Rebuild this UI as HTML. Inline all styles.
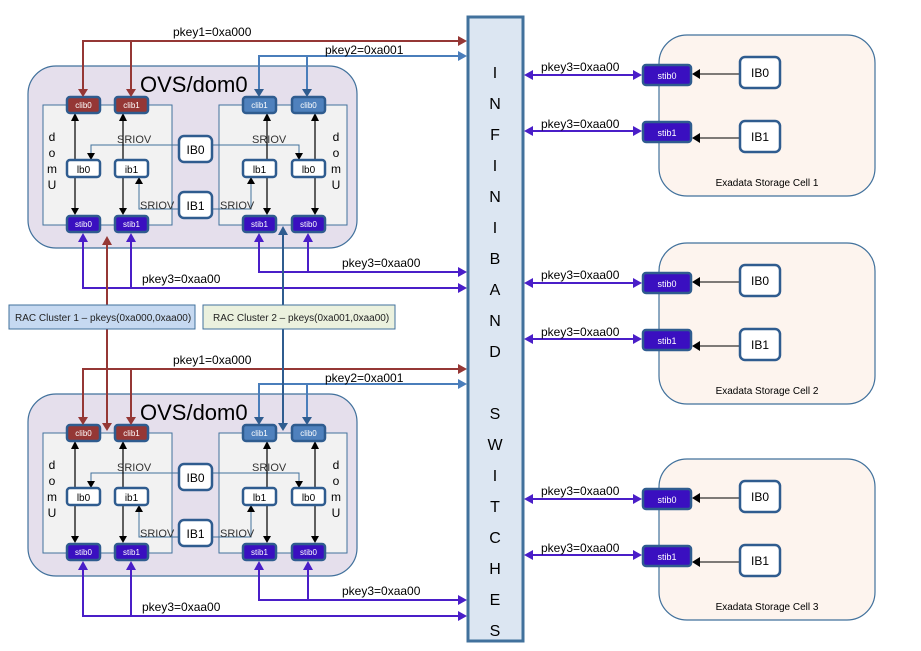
<!DOCTYPE html>
<html><head><meta charset="utf-8"><style>
html,body{margin:0;padding:0;background:#fff;}
svg{display:block;font-family:"Liberation Sans",sans-serif;}
</style></head><body>
<svg width="921" height="651" viewBox="0 0 921 651" xmlns="http://www.w3.org/2000/svg">
<g>
  <rect x="28" y="66" width="329" height="182" rx="28" fill="#e5dfec" stroke="#41719c" stroke-width="1.2"/>
  <text x="140" y="92" font-size="22" fill="#000">OVS/dom0</text>
  <rect x="43" y="105" width="129" height="120" fill="#f2f2f2" stroke="#41719c"/>
  <rect x="219" y="105" width="128" height="120" fill="#f2f2f2" stroke="#41719c"/>
  <g font-size="12" fill="#000" text-anchor="middle">
    <text x="52" y="141">d</text><text x="52" y="157">o</text><text x="52" y="173">m</text><text x="52" y="189">U</text>
    <text x="336" y="141">d</text><text x="336" y="157">o</text><text x="336" y="173">m</text><text x="336" y="189">U</text>
  </g>
  <path d="M178,145 H91 V155 M212,145 H299 V155 M178,209 H139 V182 M212,209 H251 V182" fill="none" stroke="#41719c"/>
  <path d="M75,160 V118 M75,177 V210 M123,160 V118 M123,177 V210 M267,160 V118 M267,177 V210 M315,160 V118 M315,177 V210" stroke="#000" stroke-width="1.2" fill="none"/>
  <path d="M71,121 L79,121 L75,113 z M119,121 L127,121 L123,113 z M263,121 L271,121 L267,113 z M311,121 L319,121 L315,113 z M71,208 L79,208 L75,215 z M119,208 L127,208 L123,215 z M263,208 L271,208 L267,215 z M311,208 L319,208 L315,215 z M87,153 L95,153 L91,160 z M295,153 L303,153 L299,160 z M135,184 L143,184 L139,177 z M247,184 L255,184 L251,177 z" fill="#000"/>
  <g font-size="11" fill="#333">
    <text x="117" y="143">SRIOV</text><text x="252" y="143">SRIOV</text>
    <text x="140" y="209">SRIOV</text><text x="220" y="209">SRIOV</text>
  </g>
  <rect x="179" y="136" width="33" height="26" rx="5" fill="#fff" stroke="#2f5c8f" stroke-width="2.5"/>
  <text x="195.5" y="154" font-size="12" text-anchor="middle">IB0</text>
  <rect x="179" y="192" width="33" height="26" rx="5" fill="#fff" stroke="#2f5c8f" stroke-width="2.5"/>
  <text x="195.5" y="210" font-size="12" text-anchor="middle">IB1</text>
  <g stroke="#2f5c8f" stroke-width="2.5">
    <rect x="67" y="97" width="33" height="16" rx="3" fill="#953735"/>
    <rect x="115" y="97" width="33" height="16" rx="3" fill="#953735"/>
    <rect x="243" y="97" width="33" height="16" rx="3" fill="#4f81bd"/>
    <rect x="292" y="97" width="33" height="16" rx="3" fill="#4f81bd"/>
    <rect x="67" y="160" width="33" height="17" rx="3" fill="#fff"/>
    <rect x="115" y="160" width="33" height="17" rx="3" fill="#fff"/>
    <rect x="243" y="160" width="33" height="17" rx="3" fill="#fff"/>
    <rect x="292" y="160" width="33" height="17" rx="3" fill="#fff"/>
    <rect x="67" y="216" width="33" height="16" rx="3" fill="#3a0fc0"/>
    <rect x="115" y="216" width="33" height="16" rx="3" fill="#3a0fc0"/>
    <rect x="243" y="216" width="33" height="16" rx="3" fill="#3a0fc0"/>
    <rect x="292" y="216" width="33" height="16" rx="3" fill="#3a0fc0"/>
  </g>
  <g font-size="8" fill="#fff" text-anchor="middle">
    <text x="83.5" y="108">clib0</text><text x="131.5" y="108">clib1</text>
    <text x="259.5" y="108">clib1</text><text x="308.5" y="108">clib0</text>
    <text x="83.5" y="227">stib0</text><text x="131.5" y="227">stib1</text>
    <text x="259.5" y="227">stib1</text><text x="308.5" y="227">stib0</text>
  </g>
  <g font-size="10" fill="#000" text-anchor="middle">
    <text x="83.5" y="173">lb0</text><text x="131.5" y="173">ib1</text>
    <text x="259.5" y="173">lb1</text><text x="308.5" y="173">lb0</text>
  </g>
  <path d="M83,90 V41 H460 M131,41 V90" fill="none" stroke="#953735" stroke-width="2"/>
  <path d="M78,89 L88,89 L83,97 z M126,89 L136,89 L131,97 z M458,36 L467,41 L458,46 z" fill="#953735"/>
  <path d="M259,90 V56 H460 M307,56 V90" fill="none" stroke="#4a7ebb" stroke-width="2"/>
  <path d="M254,89 L264,89 L259,97 z M302,89 L312,89 L307,97 z" fill="#2f5c8f"/>
  <path d="M458,51 L467,56 L458,61 z" fill="#4a7ebb"/>
  <text x="173" y="36" font-size="12">pkey1=0xa000</text>
  <text x="325" y="54" font-size="12">pkey2=0xa001</text>
  <path d="M83,240 V288 H460 M131,288 V240 M259,240 V272 H460 M308,272 V240" fill="none" stroke="#4a1ec8" stroke-width="2"/>
  <path d="M78,242 L88,242 L83,233 z M126,242 L136,242 L131,233 z M254,242 L264,242 L259,233 z M303,242 L313,242 L308,233 z M458,283 L467,288 L458,293 z M458,267 L467,272 L458,277 z" fill="#4a1ec8"/>
  <text x="142" y="283" font-size="12">pkey3=0xaa00</text>
  <text x="342" y="267" font-size="12">pkey3=0xaa00</text>
</g>
<g transform="translate(0,328)">
  <rect x="28" y="66" width="329" height="182" rx="28" fill="#e5dfec" stroke="#41719c" stroke-width="1.2"/>
  <text x="140" y="92" font-size="22" fill="#000">OVS/dom0</text>
  <rect x="43" y="105" width="129" height="120" fill="#f2f2f2" stroke="#41719c"/>
  <rect x="219" y="105" width="128" height="120" fill="#f2f2f2" stroke="#41719c"/>
  <g font-size="12" fill="#000" text-anchor="middle">
    <text x="52" y="141">d</text><text x="52" y="157">o</text><text x="52" y="173">m</text><text x="52" y="189">U</text>
    <text x="336" y="141">d</text><text x="336" y="157">o</text><text x="336" y="173">m</text><text x="336" y="189">U</text>
  </g>
  <path d="M178,145 H91 V155 M212,145 H299 V155 M178,209 H139 V182 M212,209 H251 V182" fill="none" stroke="#41719c"/>
  <path d="M75,160 V118 M75,177 V210 M123,160 V118 M123,177 V210 M267,160 V118 M267,177 V210 M315,160 V118 M315,177 V210" stroke="#000" stroke-width="1.2" fill="none"/>
  <path d="M71,121 L79,121 L75,113 z M119,121 L127,121 L123,113 z M263,121 L271,121 L267,113 z M311,121 L319,121 L315,113 z M71,208 L79,208 L75,215 z M119,208 L127,208 L123,215 z M263,208 L271,208 L267,215 z M311,208 L319,208 L315,215 z M87,153 L95,153 L91,160 z M295,153 L303,153 L299,160 z M135,184 L143,184 L139,177 z M247,184 L255,184 L251,177 z" fill="#000"/>
  <g font-size="11" fill="#333">
    <text x="117" y="143">SRIOV</text><text x="252" y="143">SRIOV</text>
    <text x="140" y="209">SRIOV</text><text x="220" y="209">SRIOV</text>
  </g>
  <rect x="179" y="136" width="33" height="26" rx="5" fill="#fff" stroke="#2f5c8f" stroke-width="2.5"/>
  <text x="195.5" y="154" font-size="12" text-anchor="middle">IB0</text>
  <rect x="179" y="192" width="33" height="26" rx="5" fill="#fff" stroke="#2f5c8f" stroke-width="2.5"/>
  <text x="195.5" y="210" font-size="12" text-anchor="middle">IB1</text>
  <g stroke="#2f5c8f" stroke-width="2.5">
    <rect x="67" y="97" width="33" height="16" rx="3" fill="#953735"/>
    <rect x="115" y="97" width="33" height="16" rx="3" fill="#953735"/>
    <rect x="243" y="97" width="33" height="16" rx="3" fill="#4f81bd"/>
    <rect x="292" y="97" width="33" height="16" rx="3" fill="#4f81bd"/>
    <rect x="67" y="160" width="33" height="17" rx="3" fill="#fff"/>
    <rect x="115" y="160" width="33" height="17" rx="3" fill="#fff"/>
    <rect x="243" y="160" width="33" height="17" rx="3" fill="#fff"/>
    <rect x="292" y="160" width="33" height="17" rx="3" fill="#fff"/>
    <rect x="67" y="216" width="33" height="16" rx="3" fill="#3a0fc0"/>
    <rect x="115" y="216" width="33" height="16" rx="3" fill="#3a0fc0"/>
    <rect x="243" y="216" width="33" height="16" rx="3" fill="#3a0fc0"/>
    <rect x="292" y="216" width="33" height="16" rx="3" fill="#3a0fc0"/>
  </g>
  <g font-size="8" fill="#fff" text-anchor="middle">
    <text x="83.5" y="108">clib0</text><text x="131.5" y="108">clib1</text>
    <text x="259.5" y="108">clib1</text><text x="308.5" y="108">clib0</text>
    <text x="83.5" y="227">stib0</text><text x="131.5" y="227">stib1</text>
    <text x="259.5" y="227">stib1</text><text x="308.5" y="227">stib0</text>
  </g>
  <g font-size="10" fill="#000" text-anchor="middle">
    <text x="83.5" y="173">lb0</text><text x="131.5" y="173">ib1</text>
    <text x="259.5" y="173">lb1</text><text x="308.5" y="173">lb0</text>
  </g>
  <path d="M83,90 V41 H460 M131,41 V90" fill="none" stroke="#953735" stroke-width="2"/>
  <path d="M78,89 L88,89 L83,97 z M126,89 L136,89 L131,97 z M458,36 L467,41 L458,46 z" fill="#953735"/>
  <path d="M259,90 V56 H460 M307,56 V90" fill="none" stroke="#4a7ebb" stroke-width="2"/>
  <path d="M254,89 L264,89 L259,97 z M302,89 L312,89 L307,97 z" fill="#2f5c8f"/>
  <path d="M458,51 L467,56 L458,61 z" fill="#4a7ebb"/>
  <text x="173" y="36" font-size="12">pkey1=0xa000</text>
  <text x="325" y="54" font-size="12">pkey2=0xa001</text>
  <path d="M83,240 V288 H460 M131,288 V240 M259,240 V272 H460 M308,272 V240" fill="none" stroke="#4a1ec8" stroke-width="2"/>
  <path d="M78,242 L88,242 L83,233 z M126,242 L136,242 L131,233 z M254,242 L264,242 L259,233 z M303,242 L313,242 L308,233 z M458,283 L467,288 L458,293 z M458,267 L467,272 L458,277 z" fill="#4a1ec8"/>
  <text x="142" y="283" font-size="12">pkey3=0xaa00</text>
  <text x="342" y="267" font-size="12">pkey3=0xaa00</text>
</g>
<path d="M107,243 V424 M283,234 V424" fill="none" stroke-width="2" stroke="#953735"/>
<path d="M283,234 V424" fill="none" stroke-width="2" stroke="#2f5c8f"/>
<path d="M102,245 L112,245 L107,236 z M102,423 L112,423 L107,431 z" fill="#953735"/>
<path d="M278,235 L288,235 L283,226 z M278,423 L288,423 L283,431 z" fill="#2f5c8f"/>
<rect x="9" y="305" width="186" height="24" fill="#c6d9f1" stroke="#41719c"/>
<text x="15" y="321" font-size="10" fill="#222">RAC Cluster 1 – pkeys(0xa000,0xaa00)</text>
<rect x="203" y="305" width="192" height="24" fill="#ebf1de" stroke="#41719c"/>
<text x="213" y="321" font-size="10" fill="#222">RAC Cluster 2 – pkeys(0xa001,0xaa00)</text>
<rect x="468" y="17" width="55" height="624" fill="#dce6f2" stroke="#41719c" stroke-width="3"/>
<g font-size="16" text-anchor="middle" fill="#000">
<text x="495" y="78">I</text><text x="495" y="109">N</text><text x="495" y="140">F</text><text x="495" y="171">I</text><text x="495" y="202">N</text><text x="495" y="233">I</text><text x="495" y="264">B</text><text x="495" y="295">A</text><text x="495" y="326">N</text><text x="495" y="357">D</text>
<text x="495" y="419">S</text><text x="495" y="450">W</text><text x="495" y="481">I</text><text x="495" y="512">T</text><text x="495" y="543">C</text><text x="495" y="574">H</text><text x="495" y="605">E</text><text x="495" y="636">S</text>
</g>
<g>
  <rect x="659" y="35" width="216" height="161" rx="28" fill="#fdf4ee" stroke="#41719c" stroke-width="1.2"/>
  <path d="M739,74 H699 M739,138 H699" stroke="#000" fill="none"/>
  <path d="M700,69 L700,79 L692,74 z M700,133 L700,143 L692,138 z" fill="#000"/>
  <rect x="740" y="57" width="40" height="31" rx="5" fill="#fff" stroke="#2f5c8f" stroke-width="2.5"/>
  <text x="760" y="77" font-size="12" text-anchor="middle">IB0</text>
  <rect x="740" y="121" width="40" height="31" rx="5" fill="#fff" stroke="#2f5c8f" stroke-width="2.5"/>
  <text x="760" y="141" font-size="12" text-anchor="middle">IB1</text>
  <rect x="643" y="65" width="48" height="20" rx="3" fill="#3a0fc0" stroke="#2f5c8f" stroke-width="2.5"/>
  <text x="667" y="79" font-size="9" fill="#fff" text-anchor="middle">stib0</text>
  <rect x="643" y="122" width="48" height="20" rx="3" fill="#3a0fc0" stroke="#2f5c8f" stroke-width="2.5"/>
  <text x="667" y="136" font-size="9" fill="#fff" text-anchor="middle">stib1</text>
  <path d="M530,75 H635 M530,131 H635" stroke="#4a1ec8" stroke-width="2" fill="none"/>
  <path d="M533,70 L533,80 L524,75 z M633,70 L633,80 L642,75 z M533,126 L533,136 L524,131 z M633,126 L633,136 L642,131 z" fill="#4a1ec8"/>
  <text x="541" y="71" font-size="12">pkey3=0xaa00</text>
  <text x="541" y="128" font-size="12">pkey3=0xaa00</text>
  <text x="767" y="186" font-size="10" text-anchor="middle">Exadata Storage Cell 1</text>
</g>
<g transform="translate(0,208)">
  <rect x="659" y="35" width="216" height="161" rx="28" fill="#fdf4ee" stroke="#41719c" stroke-width="1.2"/>
  <path d="M739,74 H699 M739,138 H699" stroke="#000" fill="none"/>
  <path d="M700,69 L700,79 L692,74 z M700,133 L700,143 L692,138 z" fill="#000"/>
  <rect x="740" y="57" width="40" height="31" rx="5" fill="#fff" stroke="#2f5c8f" stroke-width="2.5"/>
  <text x="760" y="77" font-size="12" text-anchor="middle">IB0</text>
  <rect x="740" y="121" width="40" height="31" rx="5" fill="#fff" stroke="#2f5c8f" stroke-width="2.5"/>
  <text x="760" y="141" font-size="12" text-anchor="middle">IB1</text>
  <rect x="643" y="65" width="48" height="20" rx="3" fill="#3a0fc0" stroke="#2f5c8f" stroke-width="2.5"/>
  <text x="667" y="79" font-size="9" fill="#fff" text-anchor="middle">stib0</text>
  <rect x="643" y="122" width="48" height="20" rx="3" fill="#3a0fc0" stroke="#2f5c8f" stroke-width="2.5"/>
  <text x="667" y="136" font-size="9" fill="#fff" text-anchor="middle">stib1</text>
  <path d="M530,75 H635 M530,131 H635" stroke="#4a1ec8" stroke-width="2" fill="none"/>
  <path d="M533,70 L533,80 L524,75 z M633,70 L633,80 L642,75 z M533,126 L533,136 L524,131 z M633,126 L633,136 L642,131 z" fill="#4a1ec8"/>
  <text x="541" y="71" font-size="12">pkey3=0xaa00</text>
  <text x="541" y="128" font-size="12">pkey3=0xaa00</text>
  <text x="767" y="186" font-size="10" text-anchor="middle">Exadata Storage Cell 2</text>
</g>
<g transform="translate(0,424)">
  <rect x="659" y="35" width="216" height="161" rx="28" fill="#fdf4ee" stroke="#41719c" stroke-width="1.2"/>
  <path d="M739,74 H699 M739,138 H699" stroke="#000" fill="none"/>
  <path d="M700,69 L700,79 L692,74 z M700,133 L700,143 L692,138 z" fill="#000"/>
  <rect x="740" y="57" width="40" height="31" rx="5" fill="#fff" stroke="#2f5c8f" stroke-width="2.5"/>
  <text x="760" y="77" font-size="12" text-anchor="middle">IB0</text>
  <rect x="740" y="121" width="40" height="31" rx="5" fill="#fff" stroke="#2f5c8f" stroke-width="2.5"/>
  <text x="760" y="141" font-size="12" text-anchor="middle">IB1</text>
  <rect x="643" y="65" width="48" height="20" rx="3" fill="#3a0fc0" stroke="#2f5c8f" stroke-width="2.5"/>
  <text x="667" y="79" font-size="9" fill="#fff" text-anchor="middle">stib0</text>
  <rect x="643" y="122" width="48" height="20" rx="3" fill="#3a0fc0" stroke="#2f5c8f" stroke-width="2.5"/>
  <text x="667" y="136" font-size="9" fill="#fff" text-anchor="middle">stib1</text>
  <path d="M530,75 H635 M530,131 H635" stroke="#4a1ec8" stroke-width="2" fill="none"/>
  <path d="M533,70 L533,80 L524,75 z M633,70 L633,80 L642,75 z M533,126 L533,136 L524,131 z M633,126 L633,136 L642,131 z" fill="#4a1ec8"/>
  <text x="541" y="71" font-size="12">pkey3=0xaa00</text>
  <text x="541" y="128" font-size="12">pkey3=0xaa00</text>
  <text x="767" y="186" font-size="10" text-anchor="middle">Exadata Storage Cell 3</text>
</g>
</svg>
</body></html>
